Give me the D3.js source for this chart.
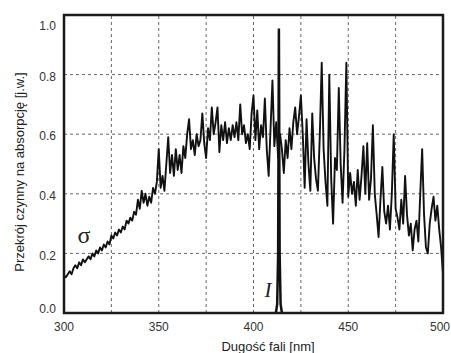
<!DOCTYPE html>
<html>
<head>
<meta charset="utf-8">
<script src="https://cdn.jsdelivr.net/npm/d3@7"></script>
<style>
  body { margin: 0; background: #fff; }
  svg { display: block; }
</style>
</head>
<body>
<div id="chart"></div>
<script>
// absorption cross-section, one value per nm from 300 to 500
const startNm = 300
const sigmaValues = [
  0.125, 0.12, 0.13, 0.14, 0.13, 0.15, 0.16, 0.15, 0.17, 0.16,
  0.18, 0.17, 0.18, 0.19, 0.18, 0.20, 0.19, 0.21, 0.20, 0.22,
  0.21, 0.23, 0.22, 0.24, 0.23, 0.26, 0.25, 0.27, 0.26, 0.28,
  0.27, 0.29, 0.28, 0.31, 0.30, 0.32, 0.31, 0.34, 0.33, 0.38,
  0.35, 0.41, 0.37, 0.40, 0.36, 0.39, 0.37, 0.42, 0.40, 0.44,
  0.55, 0.42, 0.46, 0.41, 0.50, 0.59, 0.47, 0.53, 0.46, 0.55,
  0.48, 0.53, 0.47, 0.56, 0.52, 0.60, 0.65, 0.55, 0.58, 0.53,
  0.60, 0.56, 0.58, 0.67, 0.57, 0.52, 0.62, 0.58, 0.69, 0.60,
  0.64, 0.69, 0.54, 0.63, 0.58, 0.64, 0.57, 0.62, 0.58, 0.63,
  0.59, 0.64, 0.58, 0.70, 0.60, 0.63, 0.57, 0.60, 0.55, 0.67,
  0.73, 0.58, 0.68, 0.55, 0.63, 0.59, 0.72, 0.55, 0.46, 0.62,
  0.78, 0.56, 0.64, 0.52, 0.60, 0.55, 0.47, 0.58, 0.52, 0.62,
  0.55, 0.64, 0.69, 0.60, 0.66, 0.73, 0.60, 0.42, 0.65, 0.50,
  0.41, 0.67, 0.52, 0.45, 0.41, 0.60, 0.84, 0.55, 0.44, 0.36,
  0.80, 0.45, 0.30, 0.52, 0.48, 0.755, 0.50, 0.37, 0.55, 0.84,
  0.39, 0.47, 0.40, 0.44, 0.36, 0.48, 0.38, 0.46, 0.56, 0.40,
  0.57, 0.38, 0.45, 0.63, 0.40, 0.33, 0.255, 0.38, 0.49, 0.34,
  0.30, 0.36, 0.28, 0.40, 0.60, 0.35, 0.32, 0.28, 0.38, 0.30,
  0.46, 0.33, 0.26, 0.30, 0.21, 0.28, 0.31, 0.24, 0.40, 0.55,
  0.33, 0.22, 0.20, 0.30, 0.35, 0.39, 0.31, 0.36, 0.28, 0.22,
  0.13
]

// laser line I
const lineNm = [411.8, 412.5, 413.0, 413.4, 413.8, 414.3, 415.0]
const lineValues = [0.0, 0.03, 0.2, 0.955, 0.2, 0.03, 0.0]

const xTicks = [300, 350, 400, 450, 500]
const xGrid = [325, 350, 375, 400, 425, 450, 475]
const yTicks = [0.0, 0.2, 0.4, 0.6, 0.8, 1.0]
const yGrid = [0.2, 0.4, 0.6, 0.8]

const width = 451, height = 353
const margin = { top: 15, right: 8, bottom: 40, left: 64 }

const svg = d3.select('#chart').append('svg')
  .attr('width', width)
  .attr('height', height)

const x = d3.scaleLinear().domain([300, 500]).range([margin.left, width - margin.right])
const y = d3.scaleLinear().domain([0, 1]).range([height - margin.bottom, margin.top])

// grid
svg.append('g').selectAll('line').data(xGrid).enter().append('line')
  .attr('x1', d => x(d)).attr('x2', d => x(d))
  .attr('y1', y(0)).attr('y2', y(1))
  .style('stroke', '#666').style('stroke-width', 1).style('stroke-dasharray', '3,3')

svg.append('g').selectAll('line').data(yGrid).enter().append('line')
  .attr('x1', x(300)).attr('x2', x(500))
  .attr('y1', d => y(d)).attr('y2', d => y(d))
  .style('stroke', '#666').style('stroke-width', 1).style('stroke-dasharray', '3,3')

// curves
const sigmaData = sigmaValues.map((v, i) => ({ nm: startNm + i, v }))
const lineData = lineNm.map((nm, i) => ({ nm, v: lineValues[i] }))

const path = d3.line().x(d => x(d.nm)).y(d => y(d.v))

svg.append('path')
  .datum(sigmaData)
  .attr('d', path)
  .style('fill', 'none')
  .style('stroke', '#111')
  .style('stroke-width', 1.9)
  .style('stroke-linejoin', 'round')

svg.append('path')
  .datum(lineData)
  .attr('d', path)
  .style('fill', 'none')
  .style('stroke', '#111')
  .style('stroke-width', 2.5)
  .style('stroke-linejoin', 'miter')

// frame
svg.append('rect')
  .attr('x', x(300)).attr('y', y(1))
  .attr('width', x(500) - x(300)).attr('height', y(0) - y(1))
  .style('fill', 'none').style('stroke', '#1a1a1a').style('stroke-width', 2.5)

// tick labels
svg.append('g').selectAll('text').data(xTicks).enter().append('text')
  .attr('x', d => x(d) - (d === 500 ? 3 : 0)).attr('y', y(0) + 18)
  .attr('text-anchor', 'middle')
  .style('font-family', 'Liberation Sans, Arial, sans-serif')
  .style('font-size', '12px')
  .style('fill', '#333')
  .text(d => d)

svg.append('g').selectAll('text').data(yTicks).enter().append('text')
  .attr('x', x(300) - 8)
  .attr('y', d => y(d) + (d === 1 ? 11 : d === 0 ? -4 : 2))
  .attr('dy', '0.35em')
  .attr('text-anchor', 'end')
  .style('font-family', 'Liberation Sans, Arial, sans-serif')
  .style('font-size', '12px')
  .style('fill', '#333')
  .text(d => d.toFixed(1))

// axis titles
svg.append('text')
  .attr('x', 268).attr('y', 351)
  .attr('text-anchor', 'middle')
  .style('font-family', 'Liberation Sans, Arial, sans-serif')
  .style('font-size', '13px')
  .style('fill', '#222')
  .text('Dugość fali [nm]')

svg.append('text')
  .attr('transform', 'translate(24,' + 172 + ') rotate(-90)')
  .attr('text-anchor', 'middle')
  .style('font-family', 'Liberation Sans, Arial, sans-serif')
  .style('font-size', '13px')
  .style('fill', '#222')
  .text('Przekrój czynny na absorpcję [j.w.]')

// curve labels
svg.append('text')
  .attr('x', 84).attr('y', 243)
  .attr('text-anchor', 'middle')
  .style('font-family', 'Liberation Serif, Times New Roman, serif')
  .style('font-size', '24px')
  .style('fill', '#222')
  .text('σ')

svg.append('text')
  .attr('x', 268).attr('y', 297)
  .attr('text-anchor', 'middle')
  .style('font-family', 'Liberation Serif, Times New Roman, serif')
  .style('font-style', 'italic')
  .style('font-size', '21px')
  .style('fill', '#222')
  .text('I')
</script>
</body>
</html>
